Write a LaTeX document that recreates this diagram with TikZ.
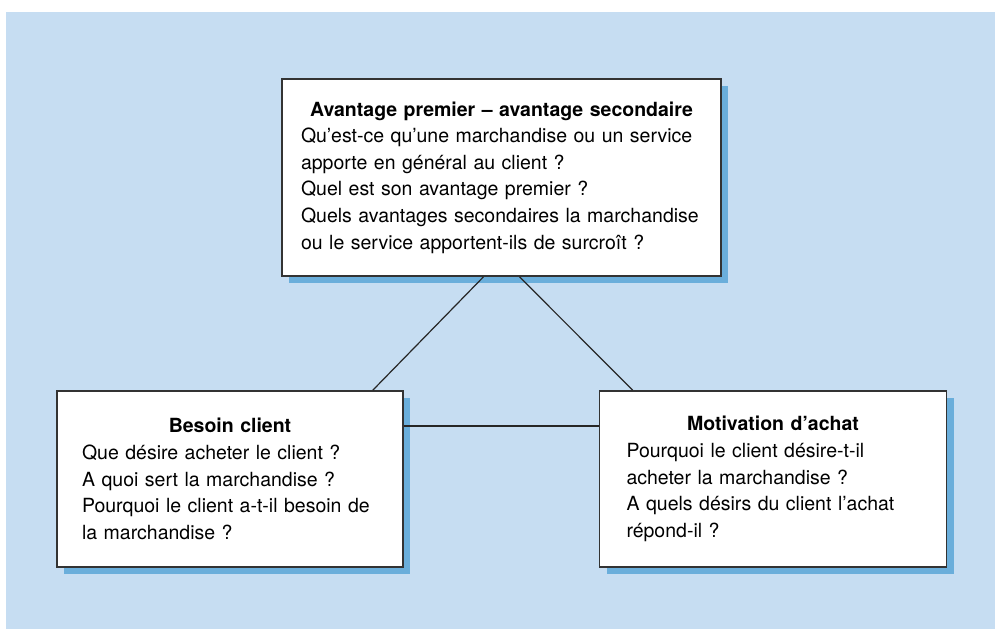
\documentclass[tikz,border=0pt]{standalone}
\usepackage{fontspec}
\setmainfont{TeX Gyre Heros}
\usetikzlibrary{positioning,shadows}
\definecolor{pageblue}{HTML}{C6DDF2}
\definecolor{shadeblue}{HTML}{6AAEDB}
\definecolor{boxline}{HTML}{333333}
\setlength\parindent{0pt}
\tikzset
{
    infobox/.style = {rectangle, draw=boxline, line width=1.6pt, fill=white, inner sep=0pt, align=left, text width=#1, font=\fontsize{19.5}{26.6}\selectfont, drop shadow={shadow xshift=7pt, shadow yshift=-7pt, fill=shadeblue, opacity=1}},
    link/.style    = {line width=1.2pt, draw=black!85},
}

\begin{document}
\begin{tikzpicture}[x=1pt, y=-1pt]
\useasboundingbox (0,0) rectangle (995,629);
\fill[pageblue] (6,12) rectangle (995,629);
\newcommand\boxDx{271.5}
\newcommand\boxDy{301.5}
\node(avantage) [infobox=401pt, minimum width=439pt, minimum height=197pt] at (501.5,177.5)
  {{\centering\bfseries Avantage premier – avantage secondaire\par}
   Qu’est-ce qu’une marchandise ou un service\\
   apporte en général au client ?\\
   Quel est son avantage premier ?\\
   Quels avantages secondaires la marchandise\\
   ou le service apportent-ils de surcroît ?};
\node(besoin) [infobox=296pt, minimum width=346pt, minimum height=176pt] at ([shift=({-\boxDx,\boxDy})]avantage)
  {{\centering\bfseries Besoin client\par}
   Que désire acheter le client ?\\
   A quoi sert la marchandise ?\\
   Pourquoi le client a-t-il besoin de\\
   la marchandise ?};
\node(motiv) [infobox=293pt, minimum width=347pt, minimum height=176pt] at ([shift=({\boxDx,\boxDy})]avantage)
  {{\centering\bfseries Motivation d’achat\par}
   Pourquoi le client désire-t-il\\
   acheter la marchandise ?\\
   A quels désirs du client l’achat\\
   répond-il ?};
\draw[link] ([xshift=-18pt]avantage.south) -- ([xshift=-31pt]besoin.north east);
\draw[link] ([xshift=18pt]avantage.south) -- ([xshift=34pt]motiv.north west);
\draw[link] ([yshift=53pt]besoin.east) -- ([yshift=53pt]motiv.west);
\end{tikzpicture}
\end{document}
